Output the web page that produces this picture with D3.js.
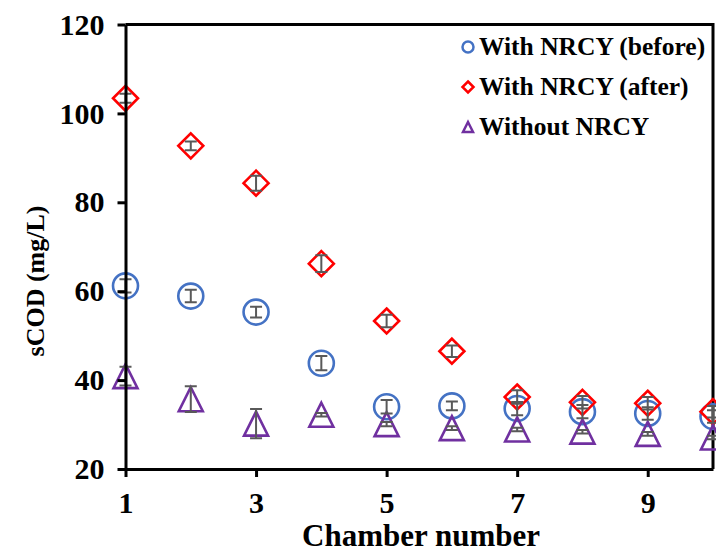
<!DOCTYPE html>
<html>
<head>
<meta charset="utf-8">
<script src="https://cdn.jsdelivr.net/npm/d3@7"></script>
<style>
  html, body { margin: 0; padding: 0; background: #fff; }
  svg { display: block; }
  text { font-family: "Liberation Serif", "Times New Roman", serif; font-weight: bold; fill: #000; }
</style>
</head>
<body>
<svg id="chart" width="716" height="553"></svg>
<script>
// Chamber numbers along the reactor
const chambers = [1, 2, 3, 4, 5, 6, 7, 8, 9, 10];

// sCOD (mg/L) per chamber and standard deviations
const withBefore    = [61.2, 58.9, 55.3, 43.8, 34.0, 34.2, 33.6, 32.9, 32.5, 31.8];
const withBeforeErr = [1.5, 1.4, 1.2, 1.6, 1.5, 1.0, 1.5, 1.5, 1.4, 1.4];
const withAfter     = [103.4, 92.7, 84.3, 66.2, 53.3, 46.5, 36.2, 35.0, 34.8, 32.9];
const withAfterErr  = [1.0, 1.0, 1.7, 1.9, 1.4, 1.3, 1.5, 1.4, 1.4, 1.3];
const without       = [40.9, 35.7, 30.2, 32.2, 30.1, 29.2, 28.9, 28.4, 27.9, 27.1];
const withoutErr    = [2.1, 2.9, 3.3, 0.4, 0.5, 0.4, 0.4, 0.4, 0.4, 0.4];

const xTicks = [1, 3, 5, 7, 9];
const yTicks = [20, 40, 60, 80, 100, 120];

const seriesNames = ["With NRCY (before)", "With NRCY (after)", "Without NRCY"];
const seriesColors = ["#4472C4", "#FF0000", "#7030A0"];
const seriesShapes = ["circle", "diamond", "triangle"];

const svg = d3.select("#chart");

const x = d3.scaleLinear().domain([1, 10]).range([125.5, 713]);
const y = d3.scaleLinear().domain([20, 120]).range([469, 24.5]);

// marker path generators centred on (0,0)
function markerPath(shape, s) {
  if (shape === "circle") {
    const p = d3.path();
    p.arc(0, 0, s, 0, 2 * Math.PI);
    return p.toString();
  }
  if (shape === "diamond") {
    return `M0,${-s}L${s},0L0,${s}L${-s},0Z`;
  }
  // triangle: bounding box centred on the point
  return `M0,${-s}L${s},${s}L${-s},${s}Z`;
}

const series = [
  { name: seriesNames[0], values: withBefore, errs: withBeforeErr, color: seriesColors[0], shape: seriesShapes[0] },
  { name: seriesNames[1], values: withAfter,  errs: withAfterErr,  color: seriesColors[1], shape: seriesShapes[1] },
  { name: seriesNames[2], values: without,    errs: withoutErr,    color: seriesColors[2], shape: seriesShapes[2] }
];

// plot frame (top and right edges)
svg.append("path")
  .attr("d", `M${x(1)},${y(120)}H${x(10)}V${y(20)}`)
  .attr("fill", "none").attr("stroke", "#000").attr("stroke-width", 3);

// markers
const sizes = { circle: 12.5, diamond: 12.5, triangle: 12 };
series.forEach(s => {
  svg.append("g").selectAll("path")
    .data(chambers.map((c, i) => ({ c, v: s.values[i] })))
    .join("path")
    .attr("transform", d => `translate(${x(d.c)},${y(d.v)})`)
    .attr("d", markerPath(s.shape, sizes[s.shape]))
    .attr("fill", "none")
    .attr("stroke", s.color)
    .attr("stroke-width", 2.6);
});

// error bars
series.forEach(s => {
  const g = svg.append("g").attr("stroke", "#595959").attr("stroke-width", 2).attr("fill", "none");
  chambers.forEach((c, i) => {
    const cx = x(c), v = s.values[i], e = s.errs[i];
    g.append("path").attr("d",
      `M${cx},${y(v + e)}V${y(v - e)}` +
      `M${cx - 6},${y(v + e)}H${cx + 6}` +
      `M${cx - 6},${y(v - e)}H${cx + 6}`);
  });
});

// axes
const yAxis = d3.axisLeft(y).tickValues(yTicks).tickSize(8).tickPadding(13).tickSizeOuter(0);
const gy = svg.append("g").attr("transform", `translate(${x(1)},0)`).call(yAxis);
gy.select(".domain").attr("stroke-width", 3);
gy.selectAll(".tick line").attr("stroke-width", 3);
gy.selectAll(".tick text").attr("font-size", 30).attr("fill", "#000")
  .attr("font-family", "Liberation Serif").attr("font-weight", "bold");

const xAxis = d3.axisBottom(x).tickValues(xTicks).tickSize(8).tickPadding(15).tickSizeOuter(0);
const gx = svg.append("g").attr("transform", `translate(0,${y(20)})`).call(xAxis);
gx.select(".domain").attr("stroke-width", 3);
gx.selectAll(".tick line").attr("stroke-width", 3);
gx.selectAll(".tick text").attr("font-size", 30).attr("fill", "#000")
  .attr("font-family", "Liberation Serif").attr("font-weight", "bold");

// axis titles
svg.append("text")
  .attr("x", 421).attr("y", 546)
  .attr("text-anchor", "middle").attr("font-size", 31)
  .text("Chamber number");

svg.append("text")
  .attr("transform", "translate(44,281) rotate(-90)")
  .attr("text-anchor", "middle").attr("font-size", 26)
  .text("sCOD (mg/L)");

// legend
const legend = svg.append("g");
series.forEach((s, i) => {
  const ly = 47 + i * 40;
  legend.append("path")
    .attr("transform", `translate(468,${ly})`)
    .attr("d", markerPath(s.shape, s.shape === "triangle" ? 5 : 5.5))
    .attr("fill", "none").attr("stroke", s.color).attr("stroke-width", 2.5);
  legend.append("text")
    .attr("x", 479).attr("y", ly + 8)
    .attr("font-size", 25.5)
    .text(s.name);
});
</script>
</body>
</html>
